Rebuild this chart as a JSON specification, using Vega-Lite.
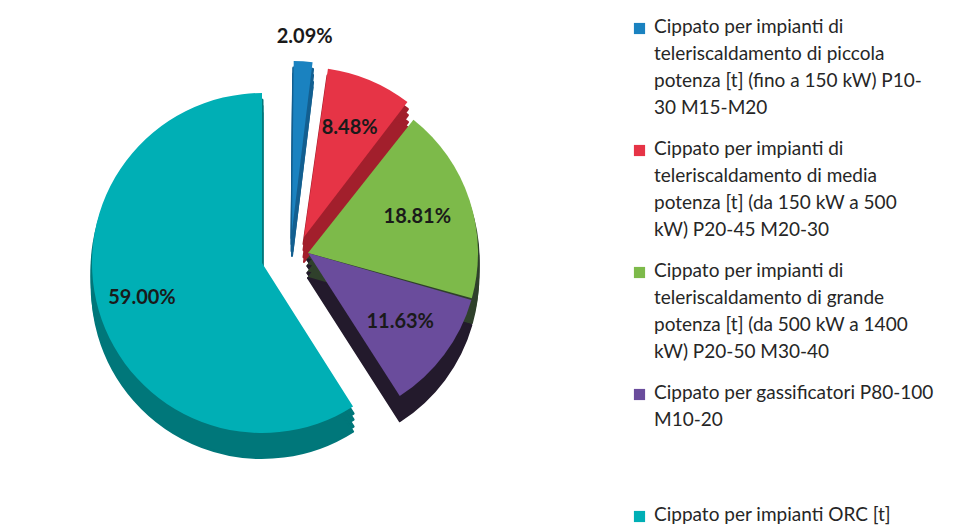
{
  "$schema": "https://vega.github.io/schema/vega-lite/v6.json",
  "width": 560,
  "height": 510,
  "padding": 0,
  "background": "white",
  "config": {
    "view": {"stroke": null},
    "style": {"guide-label": {"lineHeight": 27, "dy": -11}},
    "legend": {
      "orient": "none", "legendX": 630, "legendY": 19, "title": null,
      "symbolType": "square", "symbolSize": 125, "symbolStrokeWidth": 0,
      "labelFont": "Lato", "labelFontSize": 19, "labelColor": "#262626",
      "labelLimit": 500, "rowPadding": 21, "labelOffset": 5, "labelBaseline": "top"
    }
  },
  "data": {
    "values": [
      {"cat": "Cippato per impianti di|teleriscaldamento di piccola|potenza  [t] (fino a 150 kW) P10-|30 M15-M20", "value": 2.09},
      {"cat": "Cippato per impianti di|teleriscaldamento di media|potenza  [t] (da 150 kW a 500|kW) P20-45  M20-30", "value": 8.48},
      {"cat": "Cippato per impianti di|teleriscaldamento di grande|potenza  [t] (da 500 kW a 1400|kW) P20-50  M30-40", "value": 18.81},
      {"cat": "Cippato per gassificatori P80-100|M10-20| | ", "value": 11.63},
      {"cat": "Cippato per impianti ORC [t]", "value": 59.00}
    ]
  },
  "transform": [
    {"window": [{"op": "row_number", "as": "idx"}]},
    {"stack": "value", "groupby": [], "sort": [{"field": "idx"}], "as": ["v0", "v1"], "offset": "normalize"},
    {"calculate": "(datum.v0 + datum.v1) / 2", "as": "mid"},
    {"calculate": "format(datum.value, '.2f') + '%'", "as": "pct"}
  ],
  "layer": [
    {
      "transform": [{"filter": "datum.idx == 1"}],
      "encoding": {
        "theta": {"field": "v0", "type": "quantitative", "scale": {"domain": [0, 1]}, "stack": null},
        "theta2": {"field": "v1"}
      },
      "layer": [
        {"mark": {"type": "arc", "radius": 170, "padAngle": 0.02, "xOffset": 12, "yOffset": -17, "strokeWidth": 3, "strokeJoin": "round"}, "encoding": {"fill": {"field": "cat", "type": "nominal", "legend": null, "scale": {"range": ["#135F90", "#A21F2C", "#2F402B", "#231A2C", "#00777A"]}, "sort": null}, "stroke": {"field": "cat", "type": "nominal", "legend": null, "scale": {"range": ["#135F90", "#A21F2C", "#2F402B", "#231A2C", "#00777A"]}, "sort": null}}},
        {"mark": {"type": "arc", "radius": 170, "padAngle": 0.02, "xOffset": 12, "yOffset": -11, "strokeWidth": 3, "strokeJoin": "round"}, "encoding": {"fill": {"field": "cat", "type": "nominal", "legend": null, "sort": null}, "stroke": {"field": "cat", "type": "nominal", "legend": null, "sort": null}}},
        {"mark": {"type": "arc", "radius": 170, "padAngle": 0.02, "xOffset": 12, "yOffset": -4, "strokeWidth": 3, "strokeJoin": "round"}, "encoding": {"fill": {"field": "cat", "type": "nominal", "legend": null, "sort": null}, "stroke": {"field": "cat", "type": "nominal", "legend": null, "sort": null}}},
        {"mark": {"type": "arc", "radius": 170, "padAngle": 0.02, "xOffset": 12, "yOffset": 1, "strokeWidth": 2, "strokeJoin": "round"}, "encoding": {"fill": {"field": "cat", "type": "nominal", "legend": null, "sort": null}, "stroke": {"field": "cat", "type": "nominal", "legend": null, "sort": null}}},
        {"mark": {"type": "arc", "radius": 170, "padAngle": 0.02, "xOffset": 12, "yOffset": -24}, "encoding": {"color": {"field": "cat", "type": "nominal", "sort": null, "scale": {"range": ["#1A82C0", "#E63446", "#7DBA4A", "#6A4C9C", "#00AFB5"]}, "legend": {"labelExpr": "split(datum.label, '|')"}}}}
      ]
    },
    {
      "transform": [{"filter": "datum.idx == 2"}],
      "encoding": {
        "theta": {"field": "v0", "type": "quantitative", "scale": {"domain": [0, 1]}, "stack": null},
        "theta2": {"field": "v1"}
      },
      "layer": [
        {"mark": {"type": "arc", "radius": 170, "padAngle": 0.02, "xOffset": 24, "yOffset": -11, "strokeWidth": 3, "strokeJoin": "round"}, "encoding": {"fill": {"field": "cat", "type": "nominal", "legend": null, "sort": null}, "stroke": {"field": "cat", "type": "nominal", "legend": null, "sort": null}}},
        {"mark": {"type": "arc", "radius": 170, "padAngle": 0.02, "xOffset": 24, "yOffset": -5, "strokeWidth": 3, "strokeJoin": "round"}, "encoding": {"fill": {"field": "cat", "type": "nominal", "legend": null, "sort": null}, "stroke": {"field": "cat", "type": "nominal", "legend": null, "sort": null}}},
        {"mark": {"type": "arc", "radius": 170, "padAngle": 0.02, "xOffset": 24, "yOffset": 2, "strokeWidth": 3, "strokeJoin": "round"}, "encoding": {"fill": {"field": "cat", "type": "nominal", "legend": null, "sort": null}, "stroke": {"field": "cat", "type": "nominal", "legend": null, "sort": null}}},
        {"mark": {"type": "arc", "radius": 170, "padAngle": 0.02, "xOffset": 24, "yOffset": 7, "strokeWidth": 2, "strokeJoin": "round"}, "encoding": {"fill": {"field": "cat", "type": "nominal", "legend": null, "sort": null}, "stroke": {"field": "cat", "type": "nominal", "legend": null, "sort": null}}},
        {"mark": {"type": "arc", "radius": 170, "padAngle": 0.02, "xOffset": 24, "yOffset": -18}, "encoding": {"color": {"field": "cat", "type": "nominal", "sort": null}}}
      ]
    },
    {
      "transform": [{"filter": "datum.idx == 3 || datum.idx == 4"}],
      "encoding": {
        "theta": {"field": "v0", "type": "quantitative", "scale": {"domain": [0, 1]}, "stack": null},
        "theta2": {"field": "v1"}
      },
      "layer": [
        {"mark": {"type": "arc", "radius": 170, "padAngle": 0.01, "xOffset": 28, "yOffset": 5, "strokeWidth": 3, "strokeJoin": "round"}, "encoding": {"fill": {"field": "cat", "type": "nominal", "legend": null, "sort": null}, "stroke": {"field": "cat", "type": "nominal", "legend": null, "sort": null}}},
        {"mark": {"type": "arc", "radius": 170, "padAngle": 0.01, "xOffset": 28, "yOffset": 11, "strokeWidth": 3, "strokeJoin": "round"}, "encoding": {"fill": {"field": "cat", "type": "nominal", "legend": null, "sort": null}, "stroke": {"field": "cat", "type": "nominal", "legend": null, "sort": null}}},
        {"mark": {"type": "arc", "radius": 170, "padAngle": 0.01, "xOffset": 28, "yOffset": 18, "strokeWidth": 3, "strokeJoin": "round"}, "encoding": {"fill": {"field": "cat", "type": "nominal", "legend": null, "sort": null}, "stroke": {"field": "cat", "type": "nominal", "legend": null, "sort": null}}},
        {"mark": {"type": "arc", "radius": 170, "padAngle": 0.01, "xOffset": 28, "yOffset": 23, "strokeWidth": 2, "strokeJoin": "round"}, "encoding": {"fill": {"field": "cat", "type": "nominal", "legend": null, "sort": null}, "stroke": {"field": "cat", "type": "nominal", "legend": null, "sort": null}}},
        {"mark": {"type": "arc", "radius": 170, "padAngle": 0.01, "xOffset": 28, "yOffset": -2}, "encoding": {"color": {"field": "cat", "type": "nominal", "sort": null}}}
      ]
    },
    {
      "transform": [{"filter": "datum.idx == 5"}],
      "encoding": {
        "theta": {"field": "v0", "type": "quantitative", "scale": {"domain": [0, 1]}, "stack": null},
        "theta2": {"field": "v1"}
      },
      "layer": [
        {"mark": {"type": "arc", "radius": 170, "xOffset": -18, "yOffset": 15, "strokeWidth": 3, "strokeJoin": "round"}, "encoding": {"fill": {"field": "cat", "type": "nominal", "legend": null, "sort": null}, "stroke": {"field": "cat", "type": "nominal", "legend": null, "sort": null}}},
        {"mark": {"type": "arc", "radius": 170, "xOffset": -18, "yOffset": 21, "strokeWidth": 3, "strokeJoin": "round"}, "encoding": {"fill": {"field": "cat", "type": "nominal", "legend": null, "sort": null}, "stroke": {"field": "cat", "type": "nominal", "legend": null, "sort": null}}},
        {"mark": {"type": "arc", "radius": 170, "xOffset": -18, "yOffset": 28, "strokeWidth": 3, "strokeJoin": "round"}, "encoding": {"fill": {"field": "cat", "type": "nominal", "legend": null, "sort": null}, "stroke": {"field": "cat", "type": "nominal", "legend": null, "sort": null}}},
        {"mark": {"type": "arc", "radius": 170, "xOffset": -18, "yOffset": 33, "strokeWidth": 2, "strokeJoin": "round"}, "encoding": {"fill": {"field": "cat", "type": "nominal", "legend": null, "sort": null}, "stroke": {"field": "cat", "type": "nominal", "legend": null, "sort": null}}},
        {"mark": {"type": "arc", "radius": 170, "xOffset": -18, "yOffset": 8}, "encoding": {"color": {"field": "cat", "type": "nominal", "sort": null}}}
      ]
    },
    {
      "transform": [{"filter": "datum.idx == 1"}],
      "mark": {"type": "text", "radius": 194, "xOffset": 12, "yOffset": -24, "font": "Lato", "fontWeight": "bold", "fontSize": 20, "color": "#1a1a1a"},
      "encoding": {
        "theta": {"field": "mid", "type": "quantitative", "scale": {"domain": [0, 1]}, "stack": null},
        "text": {"field": "pct"}
      }
    },
    {
      "transform": [{"filter": "datum.idx == 2"}],
      "mark": {"type": "text", "radius": 118, "xOffset": 24, "yOffset": -18, "font": "Lato", "fontWeight": "bold", "fontSize": 20, "color": "#1a1a1a"},
      "encoding": {
        "theta": {"field": "mid", "type": "quantitative", "scale": {"domain": [0, 1]}, "stack": null},
        "text": {"field": "pct"}
      }
    },
    {
      "transform": [{"filter": "datum.idx == 3 || datum.idx == 4"}],
      "mark": {"type": "text", "radius": 115, "xOffset": 28, "yOffset": -2, "font": "Lato", "fontWeight": "bold", "fontSize": 20, "color": "#1a1a1a"},
      "encoding": {
        "theta": {"field": "mid", "type": "quantitative", "scale": {"domain": [0, 1]}, "stack": null},
        "text": {"field": "pct"}
      }
    },
    {
      "transform": [{"filter": "datum.idx == 5"}],
      "mark": {"type": "text", "radius": 125, "xOffset": -18, "yOffset": 8, "font": "Lato", "fontWeight": "bold", "fontSize": 20, "color": "#1a1a1a"},
      "encoding": {
        "theta": {"field": "mid", "type": "quantitative", "scale": {"domain": [0, 1]}, "stack": null},
        "text": {"field": "pct"}
      }
    }
  ]
}
